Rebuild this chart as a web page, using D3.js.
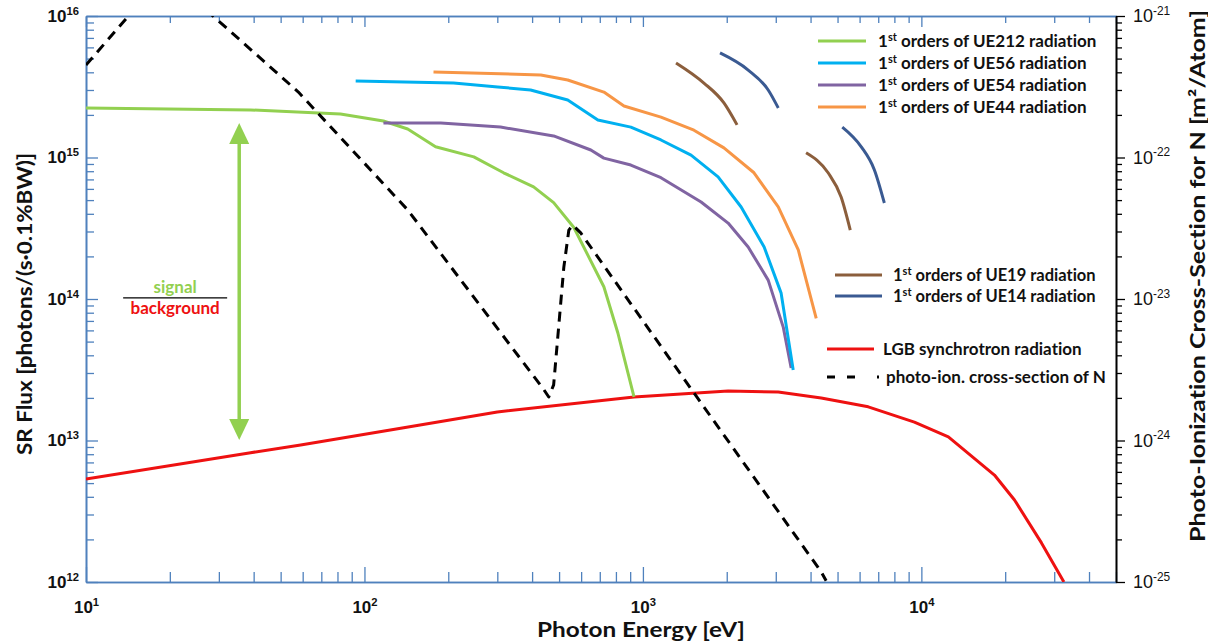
<!DOCTYPE html>
<html>
<head>
<meta charset="utf-8">
<script src="https://cdn.jsdelivr.net/npm/d3@7"></script>
<style>
  body { margin: 0; background: #fff; }
  svg { display: block; font-family: Lato, "Open Sans", sans-serif;
        font-variant-ligatures: none; font-feature-settings: "liga" 0, "dlig" 0; }
</style>
</head>
<body>
<script>
// set up canvas
var margin = {top: 16, right: 92, bottom: 59, left: 86},
    width = 1208 - margin.left - margin.right,
    height = 641 - margin.top - margin.bottom;

// tick labels (exponents)
var xMajor = [1e1, 1e2, 1e3, 1e4];
var yMajor = [1e12, 1e13, 1e14, 1e15, 1e16];
var yRightMajor = [1e-25, 1e-24, 1e-23, 1e-22, 1e-21];

// photon energy [eV] / flux [photons/(s 0.1%BW)]
var ue212E = [10, 39, 82, 117, 143, 180, 247, 316, 405, 478, 565, 724, 813, 929];
var ue212F = [2.24e15, 2.17e15, 2.03e15, 1.81e15, 1.59e15, 1.19e15, 1.01e15, 7.8e14, 6.2e14, 4.8e14, 3.2e14, 1.22e14, 5.75e13, 2.03e13];

var ue56E = [93, 209, 301, 395, 537, 689, 905, 1161, 1489, 1862, 2253, 2725, 3136, 3465];
var ue56F = [3.47e15, 3.36e15, 3.15e15, 3.0e15, 2.55e15, 1.84e15, 1.64e15, 1.33e15, 1.04e15, 7.3e14, 4.47e14, 2.33e14, 1.1e14, 3.15e13];

var ue54E = [117, 188, 308, 478, 650, 724, 905, 1161, 1618, 2023, 2388, 2818, 3193, 3407];
var ue54F = [1.75e15, 1.75e15, 1.64e15, 1.42e15, 1.13e15, 9.9e14, 8.85e14, 7.2e14, 4.85e14, 3.44e14, 2.33e14, 1.36e14, 6.3e13, 3.25e13];

var ue44E = [177, 430, 537, 724, 855, 1161, 1525, 1954, 2506, 3062, 3614, 4192];
var ue44F = [4.02e15, 3.83e15, 3.53e15, 2.9e15, 2.31e15, 1.93e15, 1.56e15, 1.17e15, 7.8e14, 4.47e14, 2.22e14, 7.3e13];

var ue19aE = [1315, 1656, 1954, 2178];
var ue19aF = [4.66e15, 3.36e15, 2.43e15, 1.7e15];
var ue19bE = [3855, 4625, 5150, 5555];
var ue19bF = [1.08e15, 7.8e14, 5.26e14, 3.07e14];

var ue14aE = [1892, 2388, 2818, 3062];
var ue14aF = [5.48e15, 4.15e15, 3.0e15, 2.24e15];
var ue14bE = [5200, 6084, 6776, 7362];
var ue14bF = [1.64e15, 1.19e15, 8.2e14, 4.77e14];

var lgbE = [10, 39, 59, 135, 300, 929, 2023, 3062, 4368, 6445, 9440, 12500, 18300, 21600, 27000, 32500];
var lgbF = [5.35e12, 8.2e12, 9.3e12, 1.22e13, 1.59e13, 2.03e13, 2.24e13, 2.2e13, 2.0e13, 1.73e13, 1.35e13, 1.06e13, 5.7e12, 3.8e12, 1.89e12, 1.0e12];

// photo-ionization cross-section of N [m^2/atom]
var sigmaE = [10, 14.2, 19.2, 28.6, 57.9, 143, 440, 459, 478, 520, 542, 560, 598, 1618, 4368, 4550];
var sigmaV = [4.5e-22, 1e-21, 1.86e-21, 1e-21, 2.9e-22, 4.26e-23, 2.3e-24, 2.03e-24, 2.47e-24, 1.68e-23, 3.07e-23, 3.33e-23, 2.93e-23, 1.84e-24, 1.18e-25, 1.02e-25];

// signal / background arrow (energy, top flux, bottom flux) and label anchor
var arrowE = 35.5, arrowTop = 1.75e15, arrowBottom = 1.01e13;
var ratioE = 20.9, ratioF = 1.02e14;

var legendTop = [
  {name: "UE212", color: "#92d050"},
  {name: "UE56", color: "#00b0f0"},
  {name: "UE54", color: "#8064a2"},
  {name: "UE44", color: "#f79646"}
];
var legendMid = [
  {name: "UE19", color: "#8b5e3c"},
  {name: "UE14", color: "#3a5a92"}
];

var axisBlue = "#4f81bd";

// scales
var x = d3.scaleLog().domain([10, 5e4]).range([0, width]),
    y = d3.scaleLog().domain([1e12, 1e16]).range([height, 0]),
    yR = d3.scaleLog().domain([1e-25, 1e-21]).range([height, 0]);

var svg = d3.select("body").append("svg")
    .attr("width", width + margin.left + margin.right)
    .attr("height", height + margin.top + margin.bottom);

svg.append("defs").append("clipPath").attr("id", "clip")
    .append("rect").attr("width", width).attr("height", height);

var g = svg.append("g")
    .attr("transform", "translate(" + margin.left + "," + margin.top + ")");

// minor tick values for a log domain
function minorTicks(lo, hi) {
    var out = [];
    for (var p = lo; p < hi; p++) {
        for (var m = 2; m <= 9; m++) out.push(+(m * Math.pow(10, p)).toPrecision(3));
    }
    return out;
}

// power-of-ten labels with superscript
function powLabels(sel, size, weight) {
    sel.selectAll(".tick text").each(function(d) {
        var t = d3.select(this);
        var e = Math.round(Math.log10(d));
        t.text("10").attr("font-size", size).attr("font-weight", weight).attr("fill", "#111");
        t.append("tspan").attr("dy", -size * 0.42).attr("font-size", size * 0.66).text(e);
    });
}

function styleAxis(sel, color) {
    sel.select(".domain").attr("stroke", color).attr("stroke-width", 1.6);
    sel.selectAll(".tick line").attr("stroke", color).attr("stroke-width", 1.3);
}

var xMinor = minorTicks(1, 5).filter(function(v) { return v <= 5e4; });

// bottom axis
g.append("g").attr("transform", "translate(0," + height + ")")
    .call(d3.axisBottom(x).tickValues(xMinor).tickSize(-10).tickSizeOuter(0).tickFormat(""))
    .call(styleAxis, axisBlue);
g.append("g").attr("transform", "translate(0," + height + ")")
    .call(d3.axisBottom(x).tickValues(xMajor).tickSize(-15).tickSizeOuter(0).tickPadding(19))
    .call(styleAxis, axisBlue)
    .call(powLabels, 17, "bold");

// top axis
g.append("g")
    .call(d3.axisTop(x).tickValues(xMinor).tickSize(-7).tickSizeOuter(0).tickFormat(""))
    .call(styleAxis, axisBlue);
g.append("g")
    .call(d3.axisTop(x).tickValues(xMajor).tickSize(-11).tickSizeOuter(0).tickFormat(""))
    .call(styleAxis, axisBlue);

// left axis
g.append("g")
    .call(d3.axisLeft(y).tickValues(minorTicks(12, 16)).tickSize(-8).tickSizeOuter(0).tickFormat(""))
    .call(styleAxis, axisBlue);
g.append("g")
    .call(d3.axisLeft(y).tickValues(yMajor).tickSize(-12).tickSizeOuter(0).tickPadding(7))
    .call(styleAxis, axisBlue)
    .call(powLabels, 17, "bold");

// right axis
g.append("g").attr("transform", "translate(" + width + ",0)")
    .call(d3.axisRight(yR).tickValues(minorTicks(-25, -21)).tickSize(6).tickSizeOuter(0).tickFormat(""))
    .call(styleAxis, "#000");
g.append("g").attr("transform", "translate(" + width + ",0)")
    .call(d3.axisRight(yR).tickValues(yRightMajor).tickSize(9).tickSizeOuter(0).tickPadding(8))
    .call(styleAxis, "#000")
    .call(powLabels, 18, "normal");

// curves
var line = d3.line()
    .x(function(d) { return x(d[0]); })
    .y(function(d) { return y(d[1]); });
var arc = d3.line().curve(d3.curveMonotoneX)
    .x(function(d) { return x(d[0]); })
    .y(function(d) { return y(d[1]); });
var lineR = d3.line()
    .x(function(d) { return x(d[0]); })
    .y(function(d) { return yR(d[1]); });

var plot = g.append("g").attr("clip-path", "url(#clip)");

var series = [
    {E: lgbE, F: lgbF, color: "#ee1111", gen: line},
    {E: ue212E, F: ue212F, color: "#92d050", gen: line},
    {E: ue54E, F: ue54F, color: "#8064a2", gen: line},
    {E: ue56E, F: ue56F, color: "#00b0f0", gen: line},
    {E: ue44E, F: ue44F, color: "#f79646", gen: line},
    {E: ue19aE, F: ue19aF, color: "#8b5e3c", gen: arc},
    {E: ue19bE, F: ue19bF, color: "#8b5e3c", gen: arc},
    {E: ue14aE, F: ue14aF, color: "#3a5a92", gen: arc},
    {E: ue14bE, F: ue14bF, color: "#3a5a92", gen: arc}
];

series.forEach(function(s) {
    plot.append("path")
        .datum(d3.zip(s.E, s.F))
        .attr("fill", "none")
        .attr("stroke", s.color)
        .attr("stroke-width", 3)
        .attr("stroke-linejoin", "round")
        .attr("d", s.gen);
});

plot.append("path")
    .datum(d3.zip(sigmaE, sigmaV))
    .attr("fill", "none")
    .attr("stroke", "#000")
    .attr("stroke-width", 3)
    .attr("stroke-linejoin", "round")
    .attr("stroke-dasharray", "10,7")
    .attr("d", lineR);

// signal / background arrow
var ax = x(arrowE), at = y(arrowTop), ab = y(arrowBottom), head = 21;
g.append("line")
    .attr("x1", ax).attr("x2", ax)
    .attr("y1", at + head - 2).attr("y2", ab - head + 2)
    .attr("stroke", "#92d050").attr("stroke-width", 3.5);
g.append("path")
    .attr("d", "M" + ax + "," + at + "l-10," + head + "h20z")
    .attr("fill", "#92d050");
g.append("path")
    .attr("d", "M" + ax + "," + ab + "l-10," + (-head) + "h20z")
    .attr("fill", "#92d050");

var fx = x(ratioE), fy = y(ratioF);
g.append("text").attr("x", fx).attr("y", fy - 5)
    .attr("text-anchor", "middle").attr("font-size", 17).attr("font-weight", "bold")
    .attr("fill", "#92d050").text("signal");
g.append("line")
    .attr("x1", fx - 52).attr("x2", fx + 52).attr("y1", fy).attr("y2", fy)
    .attr("stroke", "#000").attr("stroke-width", 1.3);
g.append("text").attr("x", fx).attr("y", fy + 16)
    .attr("text-anchor", "middle").attr("font-size", 17).attr("font-weight", "bold")
    .attr("fill", "#ee1111").text("background");

// legend text with 1st superscript
function firstOrder(sel, name) {
    sel.append("tspan").text("1");
    sel.append("tspan").attr("dy", -6).attr("font-size", 11).text("st");
    sel.append("tspan").attr("dy", 6).text(" orders of " + name + " radiation");
}

var legend = svg.append("g").attr("font-size", 17).attr("font-weight", "bold").attr("fill", "#111");

legendTop.forEach(function(d, i) {
    var ly = 41 + i * 22;
    legend.append("line").attr("x1", 818).attr("x2", 866).attr("y1", ly).attr("y2", ly)
        .attr("stroke", d.color).attr("stroke-width", 3);
    legend.append("text").attr("x", 878).attr("y", ly + 6).call(firstOrder, d.name);
});

legendMid.forEach(function(d, i) {
    var ly = 275 + i * 21;
    legend.append("line").attr("x1", 835).attr("x2", 882).attr("y1", ly).attr("y2", ly)
        .attr("stroke", d.color).attr("stroke-width", 3);
    legend.append("text").attr("x", 893).attr("y", ly + 6).attr("font-size", 16.5).call(firstOrder, d.name);
});

legend.append("line").attr("x1", 827).attr("x2", 874).attr("y1", 349).attr("y2", 349)
    .attr("stroke", "#ee1111").attr("stroke-width", 3);
legend.append("text").attr("x", 883).attr("y", 355).text("LGB synchrotron radiation");
legend.append("line").attr("x1", 827).attr("x2", 879).attr("y1", 377).attr("y2", 377)
    .attr("stroke", "#000").attr("stroke-width", 3).attr("stroke-dasharray", "8,12,8,22,2,60");
legend.append("text").attr("x", 886).attr("y", 383).text("photo-ion. cross-section of N");

// axis titles
svg.append("text")
    .attr("x", 641).attr("y", 637)
    .attr("text-anchor", "middle").attr("font-size", 21).attr("font-weight", "bold")
    .attr("textLength", 208).attr("lengthAdjust", "spacingAndGlyphs")
    .attr("fill", "#111")
    .text("Photon Energy [eV]");

svg.append("text")
    .attr("transform", "rotate(-90)")
    .attr("x", -304).attr("y", 32)
    .attr("text-anchor", "middle").attr("font-size", 21).attr("font-weight", "bold")
    .attr("textLength", 302).attr("lengthAdjust", "spacingAndGlyphs")
    .attr("fill", "#111")
    .text("SR Flux [photons/(s\u00b70.1%BW)]");

svg.append("text")
    .attr("transform", "rotate(-90)")
    .attr("x", -276).attr("y", 1205)
    .attr("text-anchor", "middle").attr("font-size", 21).attr("font-weight", "bold")
    .attr("textLength", 532).attr("lengthAdjust", "spacingAndGlyphs")
    .attr("fill", "#111")
    .text("Photo-Ionization Cross-Section for N [m\u00b2/Atom]");
</script>
</body>
</html>
